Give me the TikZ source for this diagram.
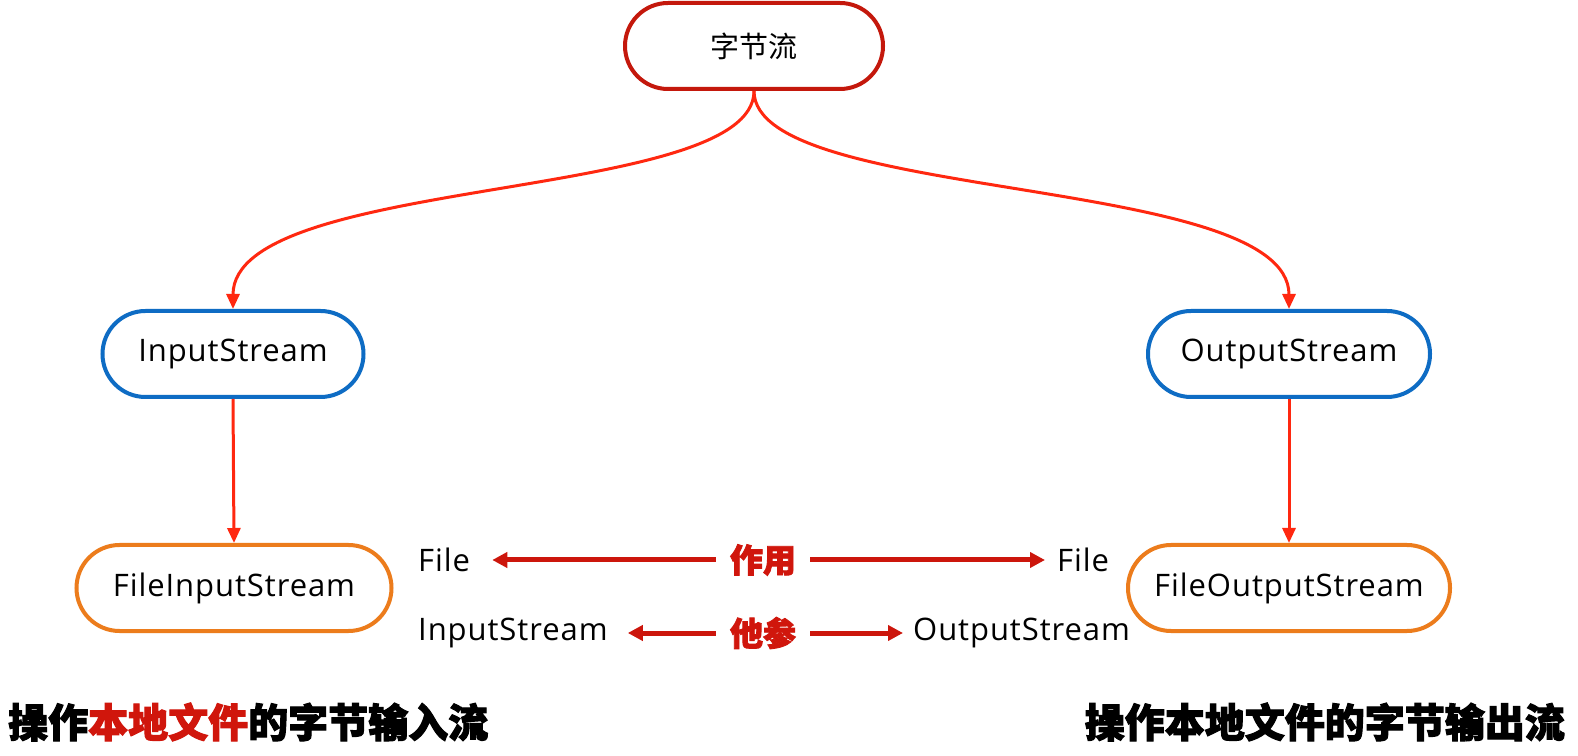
\documentclass[tikz,border=0pt]{standalone}
\usepackage{fontspec}
\setmainfont{Open Sans}[LetterSpace=3]
\newfontfamily\cjk{Noto Sans CJK SC}
\newfontfamily\cjkheavy{Noto Sans CJK SC}[BoldFeatures={FakeBold=2.5}]
\usetikzlibrary{arrows.meta}
\definecolor{topred}{RGB}{196,24,12}
\definecolor{boxblue}{RGB}{14,108,196}
\definecolor{boxorange}{RGB}{236,124,28}
\definecolor{treered}{RGB}{255,40,16}
\definecolor{midred}{RGB}{204,22,12}
\definecolor{txtred}{RGB}{208,22,12}
\begin{document}
\begin{tikzpicture}[x=1pt,y=1pt,
  pill/.style={draw, line width=4pt, rounded corners=43pt, fill=white,
    minimum height=86pt, inner sep=0pt, font=\fontsize{31}{36}\selectfont},
  treearrow/.style={draw=treered, line width=3pt,
    -{Triangle[length=15pt,width=13pt]}, fill=none},
  midarrow/.style={draw=midred, line width=5pt,
    -{Triangle[length=15pt,width=15pt]}},
  plain/.style={inner sep=0pt, font=\fontsize{31}{36}\selectfont},
  redlabel/.style={inner sep=0pt, text=txtred,
    font=\cjkheavy\bfseries\fontsize{33}{38}\selectfont},
  bottomtxt/.style={inner sep=0pt, font=\cjkheavy\bfseries\fontsize{40}{46}\selectfont}
]
\useasboundingbox[fill=white] (0,0) rectangle (1578,755);

\node[pill, draw=topred, minimum width=258pt, font=\cjk\fontsize{29}{34}\selectfont] (root) at (754,709) {字节流};
\node[pill, draw=boxblue, minimum width=261pt] (in) at (233,401) {InputStream};
\node[pill, draw=boxblue, minimum width=282pt] (out) at (1289,401) {OutputStream};
\node[pill, draw=boxorange, minimum width=315pt] (fin) at (234,167) {FileInputStream};
\node[pill, draw=boxorange, minimum width=322pt] (fout) at (1289,167) {FileOutputStream};

\draw[treearrow] (root.south) .. controls +(0,-112) and +(0,135) .. (in.north);
\draw[treearrow] (root.south) .. controls +(0,-112) and +(0,135) .. (out.north);
\draw[treearrow] (in.south) -- (fin.north);
\draw[treearrow] (out.south) -- (fout.north);

\node[plain, anchor=west] (fileL) at (418,195) {File};
\node[redlabel] (use) at (763,195) {作用};
\node[plain, anchor=west] (fileR) at (1057,195) {File};
\node[plain, anchor=west] (inL) at (418,122) {InputStream};
\node[redlabel] (param) at (763,122) {他参};
\node[plain, anchor=west] (outR) at (913,122) {OutputStream};

\draw[midarrow, shorten <=14pt, shorten >=22pt] (use) -- (fileL);
\draw[midarrow, shorten <=14pt, shorten >=12pt] (use) -- (fileR);
\draw[midarrow, shorten <=14pt, shorten >=20pt] (param) -- (inL);
\draw[midarrow, shorten <=14pt, shorten >=10pt] (param) -- (outR);

\node[bottomtxt, anchor=west] (bottomL) at (8,33) {操作\textcolor{txtred}{本地文件}的字节输入流};
\node[bottomtxt, anchor=east] (bottomR) at (1565,33) {操作本地文件的字节输出流};
\end{tikzpicture}
\end{document}
